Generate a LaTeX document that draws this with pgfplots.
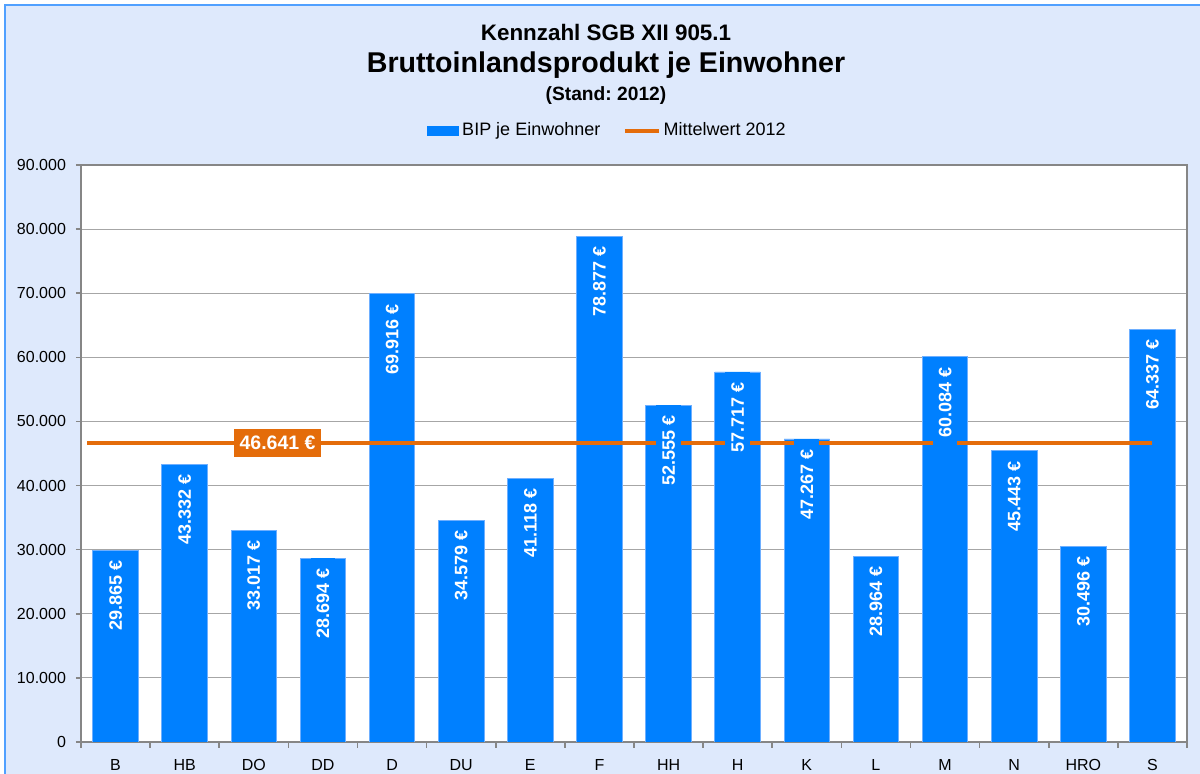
\documentclass[border=0pt]{standalone}
\usepackage{pgfplots}
\pgfplotsset{compat=1.18}
\usepackage{pgfplotstable}
\usepackage{fontspec}
\setmainfont{Liberation Sans}
\frenchspacing
\definecolor{barblue}{RGB}{0,128,255}
\definecolor{baredge}{RGB}{110,175,255}
\definecolor{meanorange}{RGB}{228,108,10}
\definecolor{bgblue}{RGB}{222,233,252}
\definecolor{framblue}{RGB}{80,160,255}
\definecolor{gridgray}{RGB}{166,166,166}
\definecolor{axgray}{RGB}{134,134,134}
\pgfplotstableread{
x y lab
0 29865 29.865
1 43332 43.332
2 33017 33.017
3 28694 28.694
4 69916 69.916
5 34579 34.579
6 41118 41.118
7 78877 78.877
8 52555 52.555
9 57717 57.717
10 47267 47.267
11 28964 28.964
12 60084 60.084
13 45443 45.443
14 30496 30.496
15 64337 64.337
}\bipdata
\begin{document}
\begin{tikzpicture}
\useasboundingbox (0,0) rectangle (600pt,387pt);
\fill[white] (0,0) rectangle (600pt,387pt);
\fill[bgblue] (2.5pt,-5pt) rectangle (606pt,384.5pt);
\draw[framblue, line width=0.8pt] (2.5pt,-5pt) rectangle (606pt,384.5pt);
\node[font=\bfseries\fontsize{11.2}{13}\selectfont] at (303pt,370.5pt) {Kennzahl SGB XII 905.1};
\node[font=\bfseries\fontsize{14.3}{17}\selectfont] at (303pt,354.5pt) {Bruttoinlandsprodukt je Einwohner};
\node[font=\bfseries\fontsize{9.6}{11.5}\selectfont] at (303pt,339pt) {(Stand: 2012)};
\begin{axis}[
  at={(40.5pt,16pt)}, anchor=south west,
  scale only axis, width=553pt, height=288.5pt,
  xmin=-0.5, xmax=15.5, ymin=0, ymax=90000,
  axis background/.style={fill=white},
  axis line style={axgray, line width=0.8pt},
  xtick pos=lower, ytick pos=left,
  xtick={0,...,15},
  xticklabels={B,HB,DO,DD,D,DU,E,F,HH,H,K,L,M,N,HRO,S},
  major x tick style={draw=none},
  minor xtick={-0.5,0.5,...,15.5},
  minor x tick style={axgray, line width=0.8pt},
  minor tick length=3pt,
  ytick={0,10000,...,90000},
  major y tick style={axgray, line width=0.8pt},
  major tick length=2.5pt,
  tick align=outside,
  ymajorgrids, grid style={gridgray, line width=0.6pt},
  scaled y ticks=false,
  /pgf/number format/.cd, fixed, 1000 sep={.}, assume math mode=true,
  /pgfplots/.cd,
  ticklabel style={font=\fontsize{8}{9.6}\selectfont},
  yticklabel style={xshift=-1.5pt},
  xticklabel style={yshift=-2.5pt},
  legend columns=2,
  legend style={draw=none, fill=none, at={(0.4765,1.059)}, anchor=center,
    font=\fontsize{9}{10.8}\selectfont, /tikz/every even column/.append style={column sep=10pt},
    nodes={inner sep=1.5pt}},
]
\addplot[ybar, bar width=22.8pt, bar shift=0pt, fill=barblue, draw=baredge, line width=0.4pt,
  legend image code/.code={\fill[barblue] (0pt,-2.3pt) rectangle (15.5pt,2.3pt);}]
  table[x=x, y=y] {\bipdata};
\addlegendentry{BIP je Einwohner}
\addplot[meanorange, line width=1.6pt, mark=none,
  legend image code/.code={\draw[meanorange, line width=1.6pt] (0pt,0pt) -- (17pt,0pt);}]
  coordinates {(-0.41,46641) (15,46641)};
\addlegendentry{Mittelwert 2012}
\addplot[draw=none, mark=none, forget plot,
  point meta=explicit symbolic,
  nodes near coords={\pgfplotspointmeta~€},
  nodes near coords align={anchor=east},
  every node near coord/.append style={rotate=90, anchor=east, text=white,
    font=\bfseries\fontsize{9}{10.8}\selectfont, fill=barblue, inner xsep=5pt, inner ysep=3pt}]
  table[x=x, y=y, meta=lab] {\bipdata};
\addplot[draw=none, mark=none, forget plot,
  point meta=explicit symbolic,
  nodes near coords={\pgfplotspointmeta~€},
  nodes near coords align={anchor=center},
  every node near coord/.append style={anchor=center, text=white,
    font=\bfseries\fontsize{9.75}{11.7}\selectfont, fill=meanorange, inner xsep=2.8pt, inner ysep=3.5pt}]
  coordinates {(2.343,46641) [46.641]};
\end{axis}
\end{tikzpicture}
\end{document}
